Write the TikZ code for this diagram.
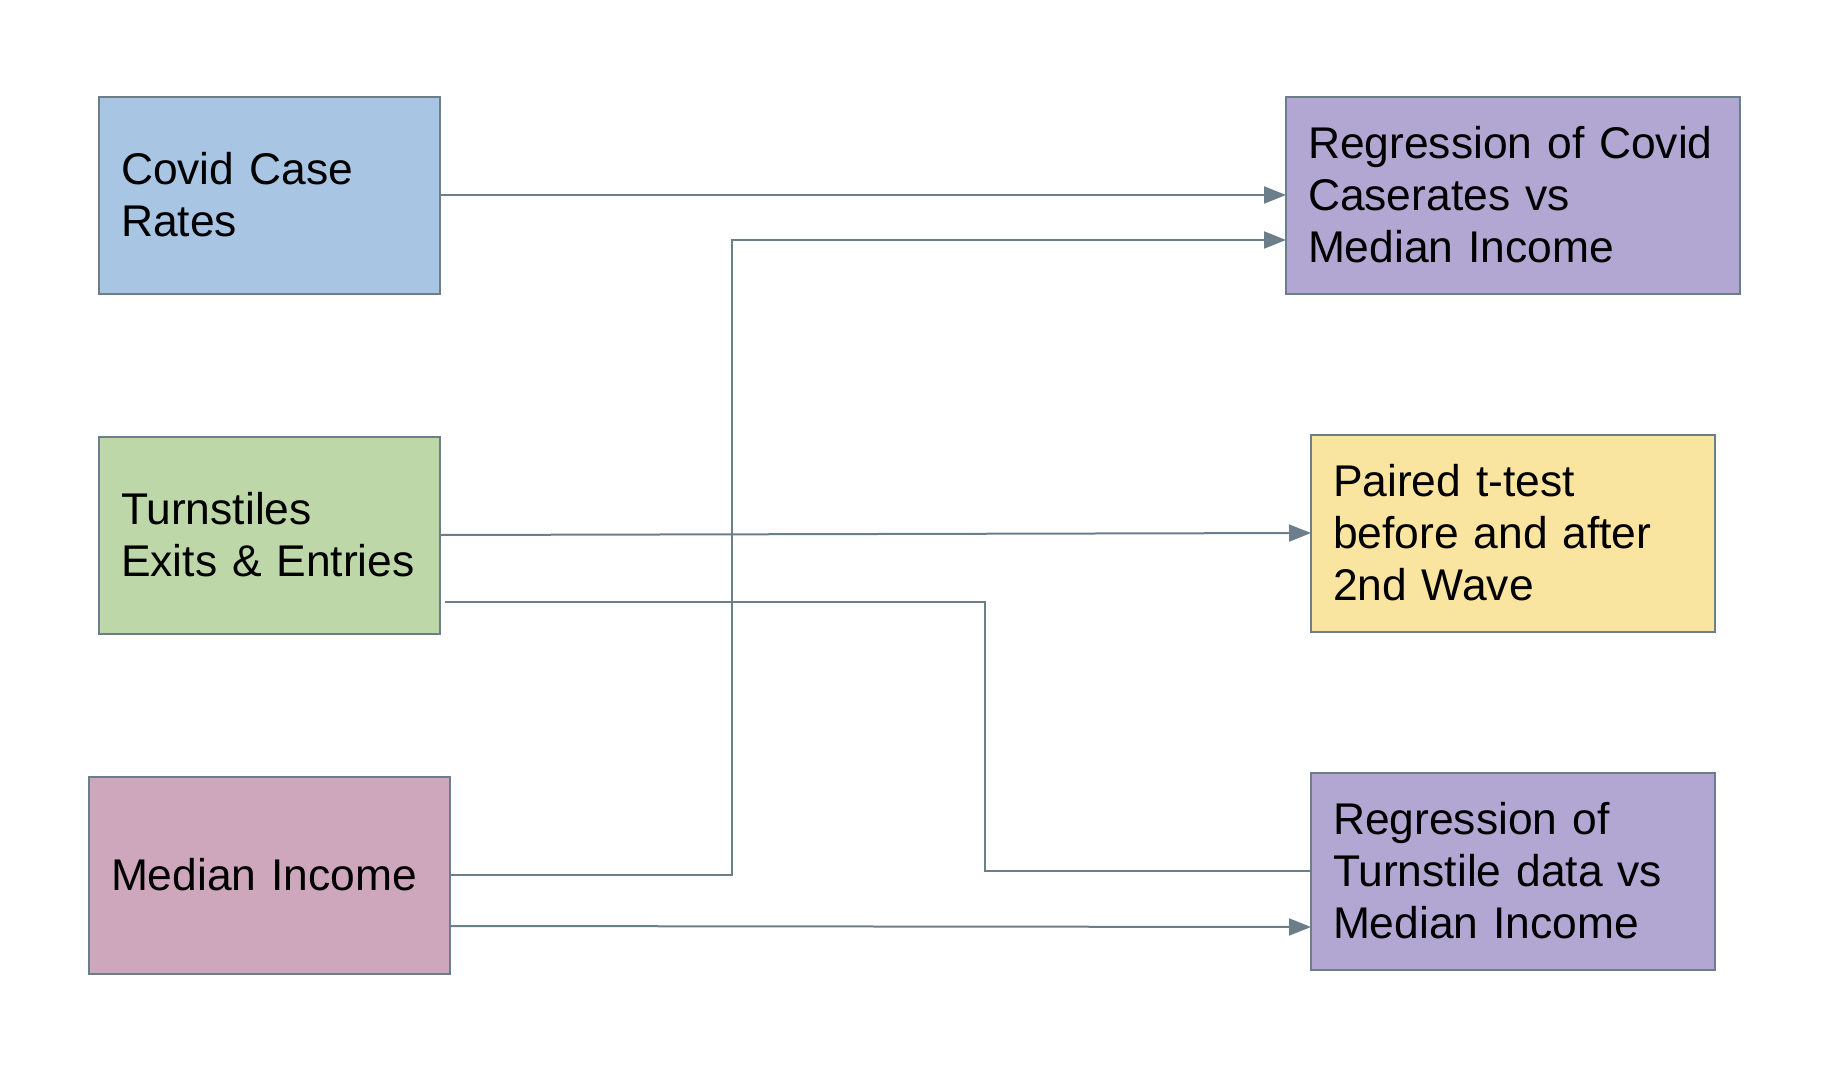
\documentclass[tikz,border=0pt]{standalone}
\usepackage{fontspec}
\setmainfont{Liberation Sans}
\usepackage{xcolor}
\usepackage{tikz}
\usetikzlibrary{positioning, arrows.meta, calc}

\definecolor{edgegray}{RGB}{108,126,138}
\definecolor{caseblue}{RGB}{168,197,228}
\definecolor{turngreen}{RGB}{189,215,168}
\definecolor{incomepink}{RGB}{207,167,188}
\definecolor{regpurple}{RGB}{178,167,210}
\definecolor{testyellow}{RGB}{249,228,160}

\begin{document}
\begin{tikzpicture}[x=0.5pt, y=-0.5pt, node distance=71.5pt and 423pt,
	box/.style={draw=edgegray, line width=1pt, rectangle, align=left, inner sep=0pt, outer sep=0pt, minimum height=98.5pt, font=\fontsize{22.2}{26}\selectfont},
	flow/.style={draw=edgegray, line width=1pt, -{Triangle[length=11pt, width=8.5pt]}},
	plainflow/.style={draw=edgegray, line width=1pt}]
	\useasboundingbox (0,0) rectangle (1822,1076);
	
	% Sources
	\node[box, fill=caseblue, minimum width=170.5pt, text width=148.5pt] (covid) at (269.5,195) {
		Covid Case\\
		Rates
	};
	
	\node[box, fill=turngreen, minimum width=170.5pt, text width=148.5pt, below=of covid] (turn) {
		Turnstiles\\
		Exits \& Entries
	};
	
	\node[box, fill=incomepink, minimum width=180.5pt, text width=158.5pt, below=of turn] (income) {
		Median Income
	};
	
	% Analyses
	\node[box, fill=regpurple, minimum width=227pt, text width=205pt, right=of covid] (regcovid) {
		Regression of Covid\\
		Caserates vs\\
		Median Income
	};
	
	\node[box, fill=testyellow, minimum width=202pt, text width=180pt, below=70.5pt of regcovid] (paired) {
		Paired t-test\\
		before and after\\
		2nd Wave
	};
	
	\node[box, fill=regpurple, minimum width=202pt, text width=180pt, below=70.5pt of paired] (regturn) {
		Regression of\\
		Turnstile data vs\\
		Median Income
	};
	
	% Connectors
	\draw[flow] (covid) -- (regcovid);
	\draw[flow] (income.east) -- ++(282,0) |- ($(regcovid.west)+(0,45)$);
	\draw[flow] (turn.east) -- (paired.west);
	\draw[plainflow] ($(turn.east)+(5,67)$) -- ++(540,0) |- (regturn.west);
	\draw[flow] ($(income.east)+(0,51)$) -- ($(regturn.west)+(0,56)$);
\end{tikzpicture}
\end{document}
